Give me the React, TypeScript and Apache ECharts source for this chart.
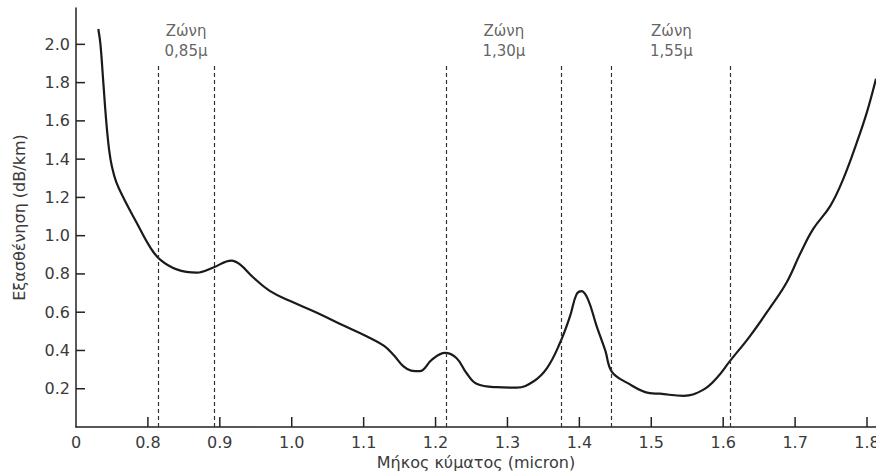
import React, { useEffect, useRef } from "react";
import * as echarts from "echarts";

// Attenuation curve: wavelength (micron) vs attenuation (dB/km)
const curveX = [
  0.731, 0.734, 0.738, 0.742, 0.746, 0.75, 0.756, 0.767, 0.784, 0.803, 0.817,
  0.84, 0.868, 0.891, 0.916, 0.928, 0.947, 0.97, 0.998, 1.035, 1.072,
  1.104, 1.128, 1.142, 1.155, 1.166, 1.178, 1.195, 1.213, 1.229, 1.243, 1.257,
  1.285, 1.313, 1.336, 1.355, 1.373, 1.387, 1.396, 1.403, 1.412, 1.424,
  1.436, 1.445, 1.466, 1.498, 1.512, 1.545, 1.572, 1.591, 1.609, 1.637,
  1.665, 1.688, 1.707, 1.725, 1.749, 1.767, 1.786, 1.8, 1.8125,
];
const curveY = [
  2.08, 2.0, 1.8, 1.6, 1.45, 1.36, 1.28, 1.19, 1.07, 0.94, 0.875,
  0.824, 0.807, 0.834, 0.87, 0.85, 0.78, 0.71, 0.658, 0.597, 0.53,
  0.474, 0.425, 0.375, 0.318, 0.295, 0.292, 0.352, 0.387, 0.361, 0.282, 0.226,
  0.208, 0.206, 0.238, 0.308, 0.439, 0.579, 0.693, 0.71, 0.667, 0.527,
  0.4, 0.29, 0.232, 0.177, 0.174, 0.163, 0.194, 0.256, 0.343, 0.474,
  0.623, 0.754, 0.905, 1.034, 1.156, 1.297, 1.489, 1.647, 1.82,
];

// Dashed window boundaries (micron) and their top (dB/km)
const windowBounds = [0.815, 0.892, 1.215, 1.375, 1.445, 1.61];
const windowTop = 1.89;

// Window labels
const zoneLabels = ["Ζώνη\n0,85μ", "Ζώνη\n1,30μ", "Ζώνη\n1,55μ"];
const zoneCenters = [0.853, 1.295, 1.528];
const zoneLabelY = 2.02;

// Tick positions
const xTickValues = [0.8, 0.9, 1.0, 1.1, 1.2, 1.3, 1.4, 1.5, 1.6, 1.7, 1.8];
const yTickValues = [0.2, 0.4, 0.6, 0.8, 1.0, 1.2, 1.4, 1.6, 1.8, 2.0];
const xMin = 0.7;
const yMin = 0;

const xName = "Μήκος κύματος (micron)";
const yName = "Εξασθένηση (dB/km)";

const FONT = "DejaVu Sans";
const TEXT = "#3a3a3a";
const INK = "#222";

export default function App() {
  const ref = useRef<HTMLDivElement>(null);

  useEffect(() => {
    if (!ref.current) return;
    const chart = echarts.init(ref.current, undefined, { renderer: "svg" });
    const lineData = curveX.map((x, i) => [x, curveY[i]]);
    const markLines = windowBounds.map((x) => [
      { coord: [x, 0] },
      { coord: [x, windowTop] },
    ]);
    const tickData = [
      ...xTickValues.map((v) => [v, yMin, 0]),
      ...yTickValues.map((v) => [xMin, v, 1]),
    ];
    chart.setOption({
      animation: false,
      backgroundColor: "#ffffff",
      grid: {
        left: 76,
        right: 0,
        top: 8,
        bottom: 47,
        containLabel: false,
        outerBoundsMode: "none",
      },
      xAxis: {
        type: "value",
        min: xMin,
        max: 1.8125,
        interval: 0.1,
        name: xName,
        nameLocation: "middle",
        nameGap: 27,
        nameTextStyle: { fontFamily: FONT, fontSize: 16, color: TEXT },
        axisLine: { show: true, onZero: false, lineStyle: { color: INK, width: 1.5 } },
        axisTick: { show: false },
        axisLabel: {
          margin: 7,
          fontFamily: FONT,
          fontSize: 16,
          color: TEXT,
          showMinLabel: true,
          showMaxLabel: false,
          hideOverlap: false,
          formatter: (v: number) => (v < 0.75 ? "0" : v.toFixed(1)),
        },
        splitLine: { show: false },
      },
      yAxis: {
        type: "value",
        min: yMin,
        max: 2.19,
        interval: 0.2,
        name: yName,
        nameLocation: "middle",
        nameGap: 49,
        nameTextStyle: { fontFamily: FONT, fontSize: 16, color: TEXT },
        axisLine: { show: true, onZero: false, lineStyle: { color: INK, width: 1.5 } },
        axisTick: { show: false },
        axisLabel: {
          margin: 6,
          fontFamily: FONT,
          fontSize: 16,
          color: TEXT,
          showMaxLabel: false,
          formatter: (v: number) => (v < 0.05 || v > 2.1 ? "" : v.toFixed(1)),
        },
        splitLine: { show: false },
      },
      series: [
        {
          type: "line",
          data: lineData,
          smooth: 0.4,
          symbol: "none",
          lineStyle: { color: "#1a1a1a", width: 2.2 },
          markLine: {
            silent: true,
            symbol: "none",
            label: { show: false },
            lineStyle: { color: "#333", width: 1.2, type: [4, 3] },
            data: markLines,
          },
        },
        {
          type: "custom",
          silent: true,
          clip: false,
          z: 10,
          data: tickData,
          renderItem: (params: any, api: any) => {
            const p = api.coord([api.value(0), api.value(1)]);
            const isY = api.value(2) === 1;
            return {
              type: "line",
              shape: isY
                ? { x1: p[0], y1: p[1], x2: p[0] + 9, y2: p[1] }
                : { x1: p[0], y1: p[1], x2: p[0], y2: p[1] - 10 },
              style: { stroke: INK, lineWidth: 1.5 },
            };
          },
        },
        {
          type: "scatter",
          symbolSize: 0,
          silent: true,
          data: zoneCenters.map((x, i) => ({ value: [x, zoneLabelY], name: zoneLabels[i] })),
          label: {
            show: true,
            position: "inside",
            formatter: (p: any) => p.name,
            fontFamily: FONT,
            fontSize: 15,
            lineHeight: 20,
            color: TEXT,
            align: "center",
          },
        },
      ],
    });
    return () => chart.dispose();
  }, []);

  return (
    <div
      ref={ref}
      style={{ position: "absolute", left: 0, top: 0, width: 876, height: 474 }}
    />
  );
}
